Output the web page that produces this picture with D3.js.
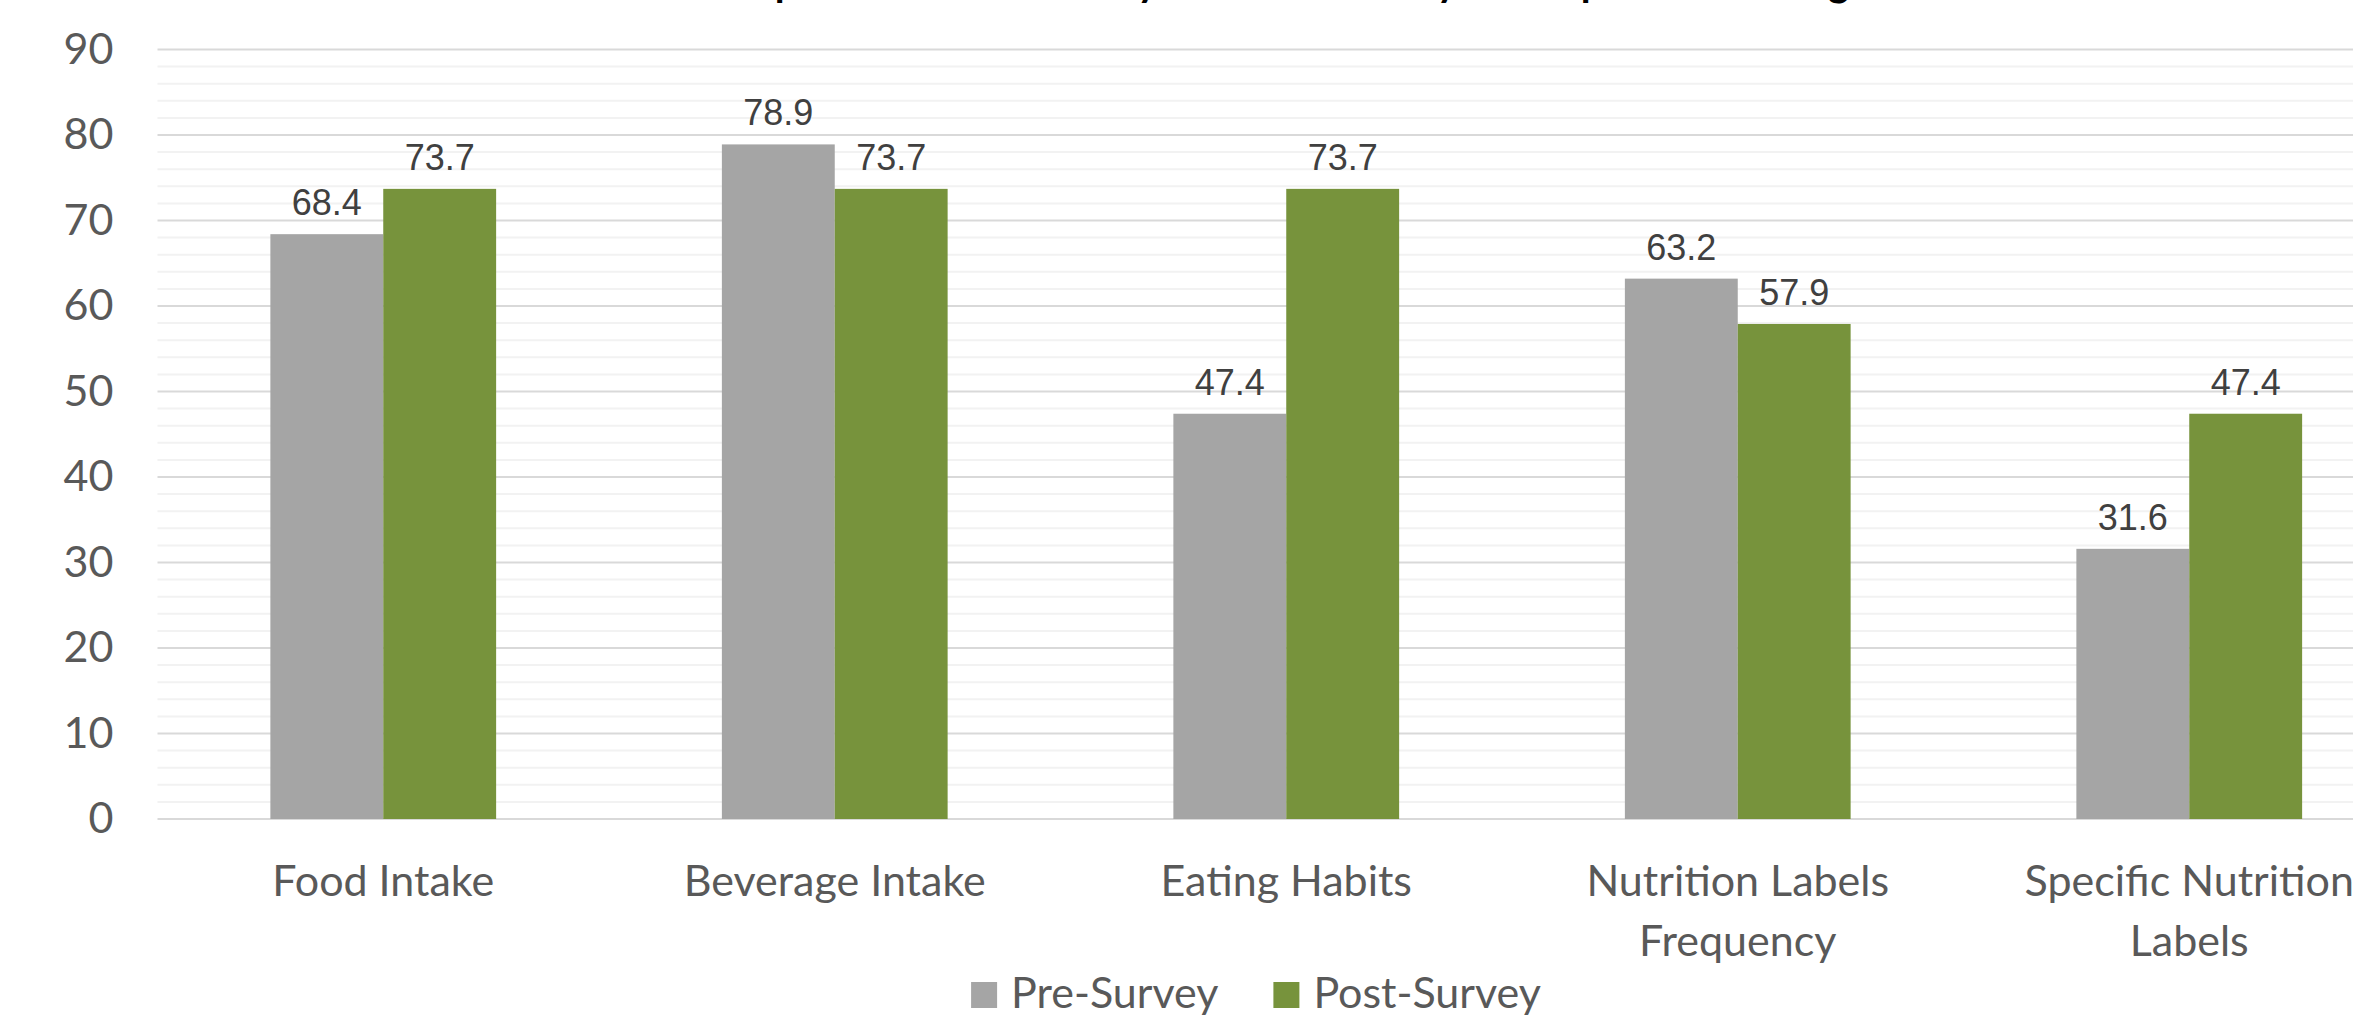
<!DOCTYPE html>
<html>
<head>
<meta charset="utf-8">
<script src="https://cdn.jsdelivr.net/npm/d3@7"></script>
<style>
  html, body { margin: 0; padding: 0; background: #fff; overflow: hidden; }
  svg { display: block; }
</style>
</head>
<body>
<svg id="chart" width="2353" height="1023"></svg>
<script>
const title = 'Comparison of Pre-Survey and Post-Survey Participant Percentages';
const categories = ['Food Intake', 'Beverage Intake', 'Eating Habits', 'Nutrition Labels Frequency', 'Specific Nutrition Labels'];
const seriesNames = ['Pre-Survey', 'Post-Survey'];
const preSurvey = [68.4, 78.9, 47.4, 63.2, 31.6];
const postSurvey = [73.7, 73.7, 73.7, 57.9, 47.4];
const yTicks = [0, 10, 20, 30, 40, 50, 60, 70, 80, 90];

const colors = { 'Pre-Survey': '#a5a5a5', 'Post-Survey': '#77933c' };
const labelFont = 'Lato, "Open Sans", sans-serif';

const svg = d3.select('#chart');
const width = 2353;

// the plot area runs past the right edge of the picture
const plot = { left: 157.5, right: 2415, top: 49.5, bottom: 819 };

const x = d3.scaleBand()
  .domain(categories)
  .range([plot.left, plot.right]);

const xInner = d3.scaleBand()
  .domain(seriesNames)
  .range([x.bandwidth() / 4, x.bandwidth() * 3 / 4]);

const y = d3.scaleLinear()
  .domain([0, 90])
  .range([plot.bottom, plot.top]);

const rows = categories.map((c, i) => ({
  category: c,
  values: [
    { series: 'Pre-Survey', value: preSurvey[i] },
    { series: 'Post-Survey', value: postSurvey[i] }
  ]
}));

// title, mostly cut off at the top
svg.append('text')
  .attr('x', 1290)
  .attr('y', -4)
  .attr('text-anchor', 'middle')
  .attr('font-family', labelFont)
  .attr('font-weight', 'bold')
  .attr('font-size', 40)
  .attr('fill', '#000')
  .text(title);

// minor grid
const minor = d3.range(0, 91, 2).filter(v => v % 10 !== 0);
svg.append('g')
  .selectAll('line')
  .data(minor)
  .join('line')
  .attr('x1', plot.left)
  .attr('x2', width)
  .attr('y1', d => y(d))
  .attr('y2', d => y(d))
  .attr('stroke', '#f2f2f2')
  .attr('stroke-width', 2);

// major grid
svg.append('g')
  .selectAll('line')
  .data(yTicks)
  .join('line')
  .attr('x1', plot.left)
  .attr('x2', width)
  .attr('y1', d => y(d))
  .attr('y2', d => y(d))
  .attr('stroke', '#d9d9d9')
  .attr('stroke-width', 2);

// y axis labels
const yAxis = svg.append('g')
  .attr('transform', `translate(${plot.left - 44},0)`)
  .call(d3.axisLeft(y).tickValues(yTicks).tickSize(0).tickPadding(0));
yAxis.select('.domain').remove();
yAxis.selectAll('text')
  .attr('font-family', labelFont)
  .attr('font-size', 43)
  .attr('fill', '#595959');

// bars
const groups = svg.append('g')
  .selectAll('g')
  .data(rows)
  .join('g')
  .attr('transform', d => `translate(${x(d.category)},0)`);

groups.selectAll('rect')
  .data(d => d.values)
  .join('rect')
  .attr('x', d => xInner(d.series))
  .attr('width', xInner.bandwidth())
  .attr('y', d => y(d.value))
  .attr('height', d => y(0) - y(d.value))
  .attr('fill', d => colors[d.series]);

groups.selectAll('text')
  .data(d => d.values)
  .join('text')
  .attr('x', d => xInner(d.series) + xInner.bandwidth() / 2)
  .attr('y', d => y(d.value) - 19)
  .attr('text-anchor', 'middle')
  .attr('font-family', '"Liberation Sans", Arial, sans-serif')
  .attr('font-size', 36)
  .attr('fill', '#404040')
  .text(d => d.value.toFixed(1));

// category labels, wrapped to the band
const xAxis = svg.append('g');
const maxLine = x.bandwidth() * 0.8;
categories.forEach(c => {
  const t = xAxis.append('text')
    .attr('x', x(c) + x.bandwidth() / 2)
    .attr('y', 896)
    .attr('text-anchor', 'middle')
    .attr('font-family', labelFont)
    .attr('font-size', 43)
    .attr('fill', '#595959');
  const words = c.split(' ');
  let line = [];
  let lineNo = 0;
  let tspan = t.append('tspan').attr('x', x(c) + x.bandwidth() / 2);
  words.forEach(w => {
    line.push(w);
    tspan.text(line.join(' '));
    if (tspan.node().getComputedTextLength() > maxLine && line.length > 1) {
      line.pop();
      tspan.text(line.join(' '));
      line = [w];
      lineNo++;
      tspan = t.append('tspan')
        .attr('x', x(c) + x.bandwidth() / 2)
        .attr('dy', 60)
        .text(w);
    }
  });
});

// legend
const legend = svg.append('g');
let cursor = 0;
seriesNames.forEach((s, i) => {
  const item = legend.append('g').attr('transform', `translate(${cursor},0)`);
  item.append('rect')
    .attr('x', 0)
    .attr('y', 982)
    .attr('width', 26)
    .attr('height', 26)
    .attr('fill', colors[s]);
  const txt = item.append('text')
    .attr('x', 40)
    .attr('y', 1008)
    .attr('font-family', labelFont)
    .attr('font-size', 43)
    .attr('fill', '#595959')
    .text(s);
  cursor += 40 + txt.node().getComputedTextLength() + 55;
});
const legendWidth = cursor - 55;
legend.attr('transform', `translate(${1256 - legendWidth / 2},0)`);
</script>
</body>
</html>
